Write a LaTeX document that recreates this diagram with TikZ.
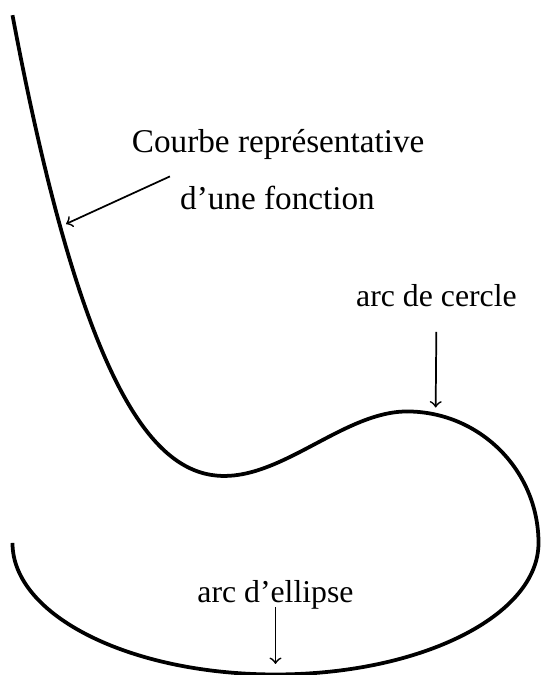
\documentclass[tikz,border=0pt]{standalone}
\usepackage{fontspec}
\setmainfont{Liberation Serif}
\usetikzlibrary{arrows.meta,positioning}

\begin{document}
\begin{tikzpicture}[x=1.6cm, y=1.6cm, >=to,
    trait/.style={line width=1.3pt},
    fleche/.style={->, line width=0.6pt},
    lab/.style={anchor=base, font=\fontsize{11}{13}\selectfont}]
  \useasboundingbox (-3.095,-1.004) rectangle (1.019,4.129);
  % la courbe, l'arc de cercle et l'arc d'ellipse
  \draw[trait, domain=-3:0, samples=90, smooth]
    plot (\x, {1-0.762*\x*\x-0.3656*\x*\x*\x});
  \draw[trait] (1,0) arc[start angle=0, end angle=90, radius=1];
  \draw[trait] (-3,0) arc[start angle=180, end angle=360, x radius=2, y radius=1];
  % points vises
  \coordinate (pfonc) at (-2.593,2.426);
  \coordinate (pcercle) at (0.218,1.03);
  \coordinate (pellipse) at (-1,-0.92);
  % legendes
  \node[lab, font=\fontsize{11.5}{13}\selectfont] (courbe) at (-0.98,2.966) {Courbe représentative};
  \node[lab, font=\fontsize{11.5}{13}\selectfont] (fonction) at (-0.985,2.532) {d'une fonction};
  \node[lab] (cercle) at (0.224,1.795) {arc de cercle};
  \node[lab] (ellipse) at (-1,-0.456) {arc d'ellipse};
  \draw[fleche] (fonction.north west) -- (pfonc);
  \draw[fleche, shorten <=5pt] (cercle.south) -- (pcercle);
  \draw[fleche] ([yshift=-1.4pt]ellipse.base) -- (pellipse);
\end{tikzpicture}
\end{document}
